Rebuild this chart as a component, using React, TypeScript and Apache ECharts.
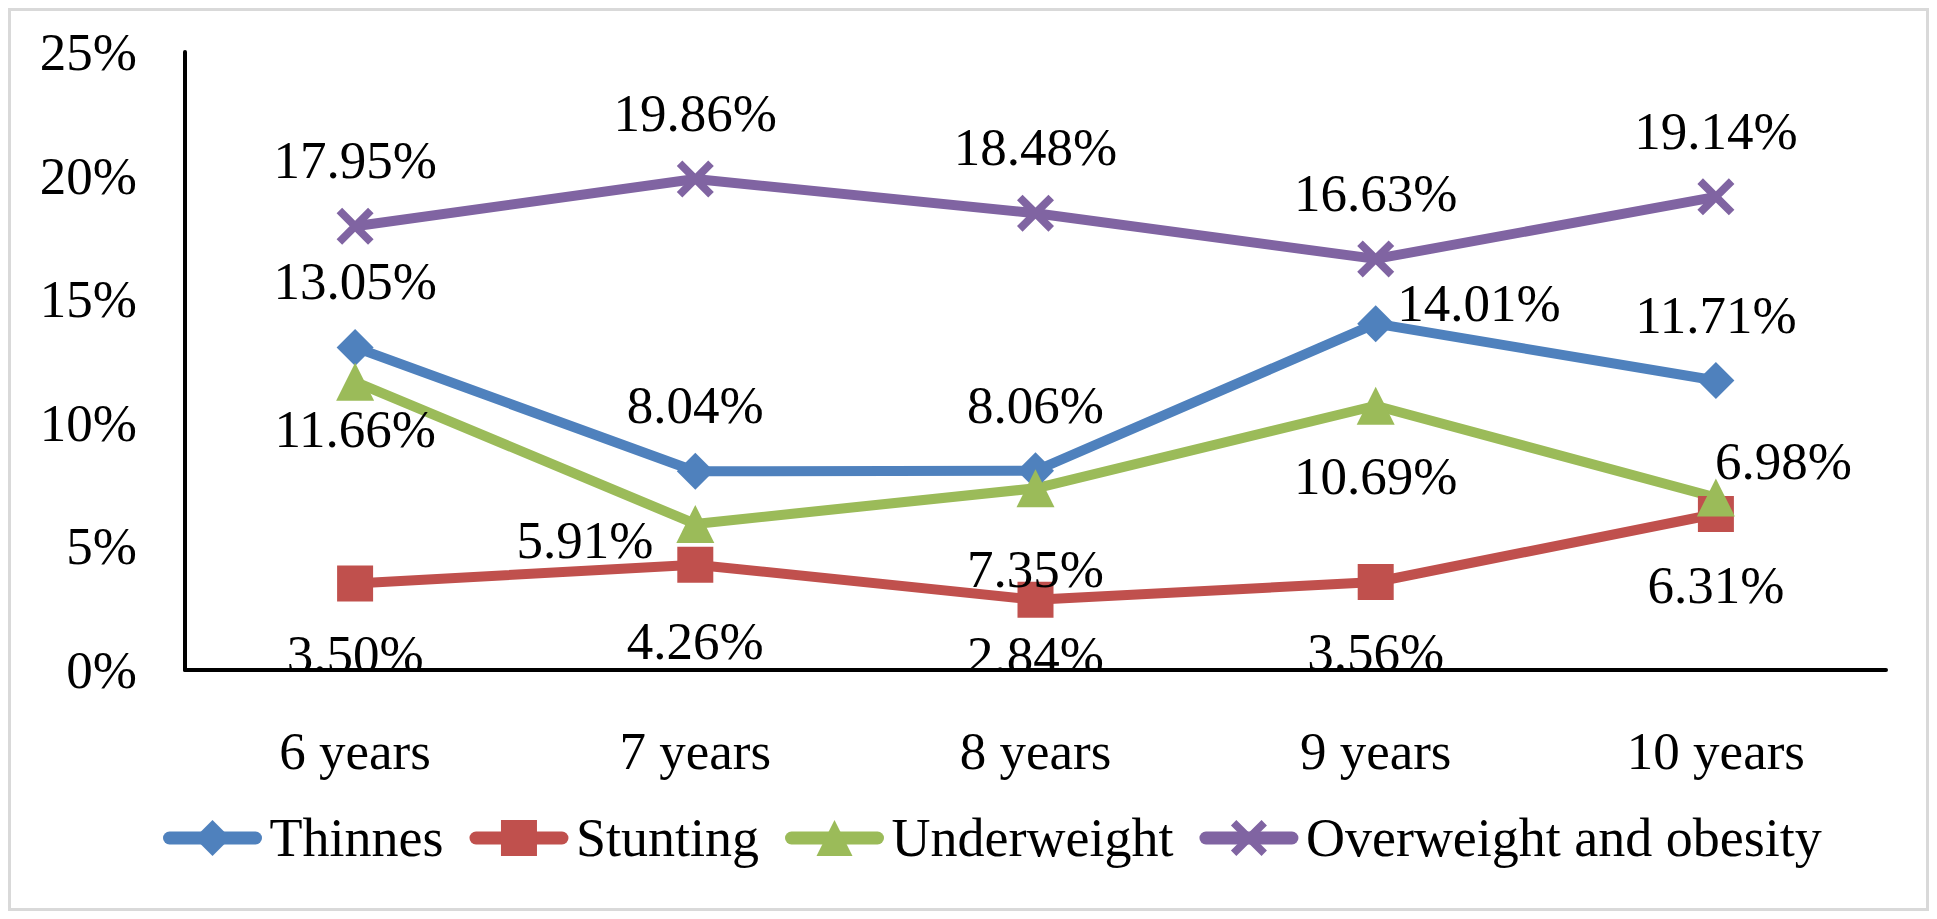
import React, { useEffect, useRef } from "react";
import * as echarts from "echarts";

const categories = ["6 years", "7 years", "8 years", "9 years", "10 years"];
const seriesNames = ["Thinnes", "Stunting", "Underweight", "Overweight and obesity"];
const thinnes = [13.05, 8.04, 8.06, 14.01, 11.71];
const stunting = [3.5, 4.26, 2.84, 3.56, 6.31];
const underweight = [11.66, 5.91, 7.35, 10.69, 6.98];
const overweight = [17.95, 19.86, 18.48, 16.63, 19.14];
const yTicks = [0, 5, 10, 15, 20, 25];

const FONT = "'Liberation Serif', 'Times New Roman', serif";
const FS = 53;
const X_PATH =
  "path://M0,15 L15,0 L50,35 L85,0 L100,15 L65,50 L100,85 L85,100 L50,65 L15,100 L0,85 L35,50 Z";

type LabelSpec = { position: string; distance: number; offset?: number[] };

const labelSpecs: LabelSpec[][] = [
  [
    { position: "top", distance: 21 },
    { position: "top", distance: 21 },
    { position: "top", distance: 21 },
    { position: "right", distance: 3, offset: [0, -21] },
    { position: "top", distance: 21 },
  ],
  [
    { position: "bottom", distance: 26 },
    { position: "bottom", distance: 32 },
    { position: "bottom", distance: 11 },
    { position: "bottom", distance: 26 },
    { position: "bottom", distance: 26 },
  ],
  [
    { position: "bottom", distance: 2 },
    { position: "left", distance: 23, offset: [0, 16] },
    { position: "bottom", distance: 35 },
    { position: "bottom", distance: 25 },
    { position: "right", distance: -20, offset: [0, -36] },
  ],
  [
    { position: "top", distance: 21 },
    { position: "top", distance: 21 },
    { position: "top", distance: 21 },
    { position: "top", distance: 21 },
    { position: "top", distance: 21 },
  ],
];

const colors = ["#4F81BD", "#C0504D", "#9BBB59", "#8064A2"];
const symbols = ["diamond", "rect", "triangle", X_PATH];
const symbolSizes = [37, 36, 38, 37];
const values = [thinnes, stunting, underweight, overweight];

export default function App() {
  const ref = useRef<HTMLDivElement>(null);
  useEffect(() => {
    if (!ref.current) return;
    const chart = echarts.init(ref.current, undefined, { renderer: "svg" });
    const series = values.map((vals, si) => ({
      name: seriesNames[si],
      type: "line",
      data: vals.map((v, i) => ({
        value: v,
        label: {
          position: labelSpecs[si][i].position,
          distance: labelSpecs[si][i].distance,
          offset: labelSpecs[si][i].offset || [0, 0],
        },
      })),
      symbol: symbols[si],
      symbolSize: symbolSizes[si],
      showAllSymbol: true,
      color: colors[si],
      itemStyle: { color: colors[si] },
      lineStyle: { color: colors[si], width: 10 },
      label: {
        show: true,
        fontFamily: FONT,
        fontSize: FS,
        color: "#000",
        formatter: (p: any) => Number(p.value).toFixed(2) + "%",
      },
      z: 2,
    }));
    chart.setOption({
      animation: false,
      backgroundColor: "#fff",
      grid: { left: 177, right: 43, top: 44, bottom: 241, containLabel: false },
      xAxis: {
        type: "category",
        data: categories,
        boundaryGap: true,
        z: 200,
        axisLine: { show: true, lineStyle: { color: "#000", width: 4 } },
        axisTick: { show: false },
        axisLabel: { fontFamily: FONT, fontSize: FS, color: "#000", margin: 54 },
        splitLine: { show: false },
      },
      yAxis: {
        type: "value",
        min: yTicks[0],
        max: yTicks[yTicks.length - 1],
        interval: 5,
        z: 200,
        axisLine: { show: true, lineStyle: { color: "#000", width: 4 } },
        axisTick: { show: false },
        axisLabel: {
          fontFamily: FONT,
          fontSize: FS,
          color: "#000",
          margin: 48,
          formatter: (v: number) => v + "%",
        },
        splitLine: { show: false },
      },
      legend: {
        data: seriesNames,
        left: 150,
        top: 798,
        itemWidth: 86,
        itemHeight: 45,
        itemGap: 26,
        textStyle: {
          fontFamily: FONT,
          fontSize: 54,
          color: "#000",
          padding: [0, 0, 0, 9],
        },
        lineStyle: { width: 13, cap: "round" },
      },
      graphic: [
        {
          type: "rect",
          z: 100,
          shape: { x: 170, y: 664, width: 1720, height: 40 },
          style: { fill: "#fff" },
          silent: true,
        },
        {
          type: "rect",
          z: 300,
          shape: { x: 1.5, y: 1.5, width: 1918, height: 900 },
          style: { fill: "none", stroke: "#d9d9d9", lineWidth: 3 },
          silent: true,
        },
      ],
      series,
    });
    return () => chart.dispose();
  }, []);
  return <div ref={ref} style={{ width: 1921, height: 903 }} />;
}
